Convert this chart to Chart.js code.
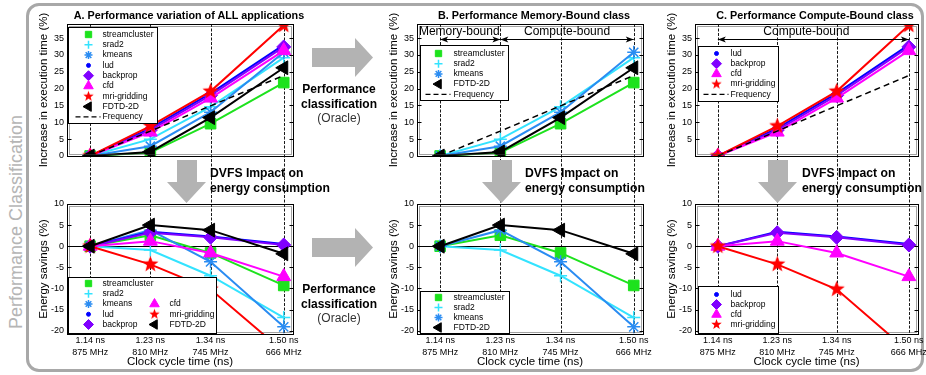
<!DOCTYPE html>
<html>
<head>
<meta charset="utf-8">
<script src="https://cdn.jsdelivr.net/npm/chart.js@4.4.1/dist/chart.umd.min.js"></script>
<style>
  html, body { margin: 0; padding: 0; background: #fff; }
  body { width: 926px; height: 375px; overflow: hidden; position: relative; font-family: "Liberation Sans", Arial, sans-serif; color: #000; }
  canvas { position: absolute; }
  #outline { position: absolute; left: 26px; top: 3px; width: 898px; height: 369px; box-sizing: border-box; border: 3px solid #a8a8a8; border-radius: 13px; }
  .c { position: absolute; white-space: nowrap; transform: translate(-50%, -50%); }
  .side { font-size: 18px; color: #b5b5b5; transform: translate(-50%, -50%) rotate(-90deg); }
  .ptitle { font-weight: bold; font-size: 10.8px; }
  .oracle { font-size: 12px; line-height: 14.5px; text-align: center; color: #333; }
  .oracle b { color: #000; }
  .dvfs { position: absolute; white-space: nowrap; font-weight: bold; font-size: 12.2px; line-height: 15px; }
  svg { position: absolute; }
</style>
</head>
<body>
<div id="outline"></div>
<div class="c side" style="left:16px;top:222px">Performance Classification</div>

<canvas id="timeA" width="277" height="200" style="left:30px;top:4px"></canvas>
<canvas id="energyA" width="277" height="181" style="left:30px;top:194px"></canvas>
<canvas id="timeB" width="277" height="200" style="left:380px;top:4px"></canvas>
<canvas id="energyB" width="277" height="181" style="left:380px;top:194px"></canvas>
<canvas id="timeC" width="274" height="200" style="left:658px;top:4px"></canvas>
<canvas id="energyC" width="274" height="181" style="left:658px;top:194px"></canvas>

<div class="c ptitle" style="left:189px;top:15px">A. Performance variation of ALL applications</div>
<div class="c ptitle" style="left:534px;top:15px">B. Performance Memory-Bound class</div>
<div class="c ptitle" style="left:815px;top:15px">C. Performance Compute-Bound class</div>

<svg style="left:312px;top:38px" width="62" height="40"><polygon points="0,10 43,10 43,0 61,19.5 43,39 43,29 0,29" fill="#b3b3b3"/></svg>
<svg style="left:312px;top:228px" width="62" height="40"><polygon points="0,10 43,10 43,0 61,19.5 43,39 43,29 0,29" fill="#b3b3b3"/></svg>
<div class="c oracle" style="left:339px;top:104px"><b>Performance</b><br><b>classification</b><br>(Oracle)</div>
<div class="c oracle" style="left:339px;top:304px"><b>Performance</b><br><b>classification</b><br>(Oracle)</div>

<svg style="left:167px;top:160px" width="40" height="44"><polygon points="10,0 30,0 30,22 39,22 19.5,43 0,22 10,22" fill="#b3b3b3"/></svg>
<svg style="left:482px;top:160px" width="40" height="44"><polygon points="10,0 30,0 30,22 39,22 19.5,43 0,22 10,22" fill="#b3b3b3"/></svg>
<svg style="left:758px;top:160px" width="40" height="44"><polygon points="10,0 30,0 30,22 39,22 19.5,43 0,22 10,22" fill="#b3b3b3"/></svg>
<div class="dvfs" style="left:210px;top:165.5px">DVFS Impact on<br>energy consumption</div>
<div class="dvfs" style="left:525px;top:165.5px">DVFS Impact on<br>energy consumption</div>
<div class="dvfs" style="left:802px;top:165.5px">DVFS Impact on<br>energy consumption</div>

<script>
// x axis: operating points
const freqMHz = [875, 810, 745, 666];
const cycleLabels = ['1.14 ns', '1.23 ns', '1.34 ns', '1.50 ns'];
const freqLabels = ['875 MHz', '810 MHz', '745 MHz', '666 MHz'];

// y tick labels
const timeTicksAll = [0, 5, 10, 15, 20, 25, 30, 35];
const timeTicksCompute = [5, 10, 15, 20, 25, 30, 35];
const energyTicks = [-20, -15, -10, -5, 0, 5, 10];

// increase in execution time (%)
const timeStreamcluster = [0, 1.0, 9.6, 21.8];
const timeSrad2 = [0, 5.0, 14.6, 29.2];
const timeKmeans = [0, 2.9, 13.0, 30.8];
const timeLud = [0, 8.2, 18.6, 33.0];
const timeBackprop = [0, 7.7, 18.0, 32.4];
const timeCfd = [0, 7.1, 17.2, 31.3];
const timeMri = [0, 8.9, 19.2, 38.8];
const timeFdtd = [0, 1.2, 11.4, 26.2];
const timeFrequency = [0, 7.4, 14.9, 23.9];

// energy savings (%)
const energyStreamcluster = [0, 2.6, -1.6, -9.3];
const energySrad2 = [0, -0.9, -7.0, -16.9];
const energyKmeans = [0, 3.8, -3.7, -19.1];
const energyLud = [0, 3.4, 2.3, 0.5];
const energyBackprop = [0, 3.2, 2.1, 0.3];
const energyCfd = [0, 1.2, -1.6, -7.2];
const energyMri = [0, -4.3, -10.2, -25.0];
const energyFdtd = [0, 5.0, 3.8, -1.8];

Chart.defaults.font.family = '"Liberation Sans", Arial, sans-serif';
Chart.defaults.color = '#000';

// filled five-point star, used for mri-gridding
function starImage(outer, color) {
  const c = document.createElement('canvas');
  const s = Math.ceil(outer * 2 + 2);
  c.width = s; c.height = s;
  const g = c.getContext('2d');
  g.beginPath();
  for (let i = 0; i < 10; i++) {
    const r = i % 2 ? outer * 0.42 : outer;
    const ang = -Math.PI / 2 + i * Math.PI / 5;
    g.lineTo(s / 2 + r * Math.cos(ang), s / 2 + r * Math.sin(ang));
  }
  g.closePath();
  g.fillStyle = color;
  g.fill();
  return c;
}

const look = {
  'streamcluster': { color: '#1de21d', style: 'rect', r: 7.5, lr: 4.5 },
  'srad2': { color: '#33e3ff', style: 'cross', r: 6.5, lr: 4, bw: 1.5 },
  'kmeans': { color: '#2a8cf2', style: 'star', r: 6.5, lr: 4, bw: 1.5 },
  'lud': { color: '#0000ff', style: 'circle', r: 2.5, lr: 2 },
  'backprop': { color: '#8000ff', style: 'rectRot', r: 7, lr: 5 },
  'cfd': { color: '#ff00ff', style: 'triangle', r: 8, lr: 5.5 },
  'mri-gridding': { color: '#ff0000', style: starImage(8.5, '#ff0000'), legendStyle: starImage(5.5, '#ff0000'), r: 8, lr: 5 },
  'FDTD-2D': { color: '#000000', style: 'triangle', rot: -90, r: 8, lr: 5.5 },
  'Frequency': { color: '#000000', style: 'circle', r: 0, lw: 1.5, dash: [6, 4] }
};

function series(label, values) {
  const s = look[label];
  return {
    label,
    data: values.map((v, i) => ({ x: freqMHz[i], y: v })),
    borderColor: s.color,
    backgroundColor: s.color,
    pointBackgroundColor: s.color,
    pointBorderColor: s.color,
    pointStyle: s.style,
    pointRadius: s.r,
    pointRotation: s.rot || 0,
    pointBorderWidth: s.bw || 1,
    borderWidth: s.lw || 2,
    borderDash: s.dash || [],
    tension: 0,
    legendStyle: s.legendStyle || s.style,
    legendRadius: s.lr
  };
}

const drawPoint = Chart.helpers && Chart.helpers.drawPoint;

// frame, dashed grid, inward ticks, span arrows and MATLAB style legend box
const decor = {
  id: 'decor',
  beforeDatasetsDraw(chart, args, o) {
    const { ctx, chartArea: a, scales: { x, y } } = chart;
    ctx.save();
    ctx.strokeStyle = '#000';
    ctx.lineWidth = 0.9;
    ctx.setLineDash([3, 1.5]);
    const yEnd = o.extendDown ? chart.height : a.bottom;
    x.ticks.forEach(t => {
      const px = Math.round(x.getPixelForValue(t.value)) + 0.5;
      ctx.beginPath(); ctx.moveTo(px, a.top); ctx.lineTo(px, yEnd); ctx.stroke();
    });
    ctx.setLineDash([]);
    if (o.zeroLine) {
      const py = Math.round(y.getPixelForValue(0)) + 0.5;
      ctx.lineWidth = 1;
      ctx.beginPath(); ctx.moveTo(a.left, py); ctx.lineTo(a.right, py); ctx.stroke();
    }
    ctx.restore();
  },
  afterDatasetsDraw(chart, args, o) {
    const { ctx, chartArea: a, scales: { x, y } } = chart;
    ctx.save();
    // frame
    ctx.strokeStyle = '#000';
    ctx.lineWidth = 1;
    const L = Math.round(a.left) + 0.5, T = Math.round(a.top) + 0.5;
    const R = Math.round(a.right) + 0.5, B = Math.round(a.bottom) + 0.5;
    ctx.strokeRect(L, T, R - L, B - T);
    ctx.setLineDash([1, 1]);
    ctx.strokeStyle = '#444';
    ctx.strokeRect(L + 2, T + 2, R - L - 4, B - T - 4);
    ctx.setLineDash([]);
    ctx.strokeStyle = '#000';
    y.ticks.forEach(t => {
      const py = Math.round(y.getPixelForValue(t.value)) + 0.5;
      ctx.beginPath();
      ctx.moveTo(L, py); ctx.lineTo(L + 4, py);
      ctx.moveTo(R, py); ctx.lineTo(R - 4, py);
      ctx.stroke();
    });

    // span arrows (Memory-bound / Compute-bound)
    (o.spans || []).forEach(s => {
      const x1 = x.getPixelForValue(s.from), x2 = x.getPixelForValue(s.to);
      const yy = a.top + s.dy + 0.5;
      ctx.fillStyle = '#000';
      ctx.lineWidth = 1;
      ctx.beginPath(); ctx.moveTo(x1, yy); ctx.lineTo(x2, yy); ctx.stroke();
      [[x1, 1], [x2, -1]].forEach(([px, d]) => {
        ctx.beginPath();
        ctx.moveTo(px, yy); ctx.lineTo(px + d * 8, yy - 3); ctx.lineTo(px + d * 6, yy); ctx.lineTo(px + d * 8, yy + 3);
        ctx.closePath(); ctx.fill();
      });
      ctx.font = '12px "Liberation Sans", Arial, sans-serif';
      ctx.textAlign = 'center';
      ctx.textBaseline = 'middle';
      ctx.fillText(s.text, (x1 + x2) / 2 + s.dx, a.top + s.ty);
    });

    // legend box
    const lg = o.legend;
    if (lg) {
      const bx = Math.round(a.left + lg.x) + 0.5, by = Math.round(a.top + lg.y) + 0.5;
      ctx.fillStyle = '#fff';
      ctx.fillRect(bx, by, lg.w, lg.h);
      ctx.strokeStyle = '#000';
      ctx.lineWidth = 1;
      ctx.strokeRect(bx, by, lg.w, lg.h);
      ctx.font = '8.5px "Liberation Sans", Arial, sans-serif';
      ctx.textAlign = 'left';
      ctx.textBaseline = 'middle';
      lg.cols.forEach(col => col.items.forEach((label, r) => {
        if (!label) return;
        const ds = chart.data.datasets.find(d => d.label === label);
        const cy = by + lg.y0 + r * lg.rowH;
        const mx = bx + col.mx;
        if (!ds.legendRadius && label === 'Frequency') {
          ctx.strokeStyle = ds.borderColor;
          ctx.lineWidth = 1.3;
          ctx.setLineDash([5, 3]);
          ctx.beginPath(); ctx.moveTo(mx - 13, cy); ctx.lineTo(mx + 12, cy); ctx.stroke();
          ctx.setLineDash([]);
        } else if (drawPoint) {
          ctx.fillStyle = ds.pointBackgroundColor;
          ctx.strokeStyle = ds.pointBorderColor;
          ctx.lineWidth = ds.pointBorderWidth;
          drawPoint(ctx, { pointStyle: ds.legendStyle, radius: ds.legendRadius, rotation: ds.pointRotation, borderWidth: ds.pointBorderWidth }, mx, cy);
        }
        ctx.fillStyle = '#000';
        ctx.fillText(label, bx + col.tx, cy);
      }));
    }
    ctx.restore();
  }
};

function makeChart(id, datasets, top, yTicks, extra) {
  const n = datasets.length;
  datasets.forEach((d, i) => { d.order = n - i; });
  return new Chart(document.getElementById(id), {
    type: 'line',
    data: { datasets },
    options: {
      responsive: false,
      animation: false,
      events: [],
      devicePixelRatio: 1,
      layout: { padding: { top: top ? 20 : 10, right: 14, left: 0, bottom: 0 } },
      scales: {
        x: {
          type: 'linear', reverse: true, min: 656, max: 900,
          grid: { display: false, drawTicks: false },
          border: { display: false },
          afterBuildTicks: ax => { ax.ticks = freqMHz.map(v => ({ value: v })); },
          afterFit: ax => { ax.height = top ? 48 : 41; },
          ticks: {
            display: !top, autoSkip: false, maxRotation: 0, padding: 1, color: '#000',
            font: { size: 9, lineHeight: 12 / 9 },
            callback: (v, i) => [cycleLabels[i], freqLabels[i]]
          },
          title: {
            display: !top, text: 'Clock cycle time (ns)', color: '#000',
            font: { size: 11.5, lineHeight: 1.2 }, padding: { top: 0, bottom: 6 }
          }
        },
        y: {
          min: top ? 0 : -20.8, max: top ? 39.2 : 10,
          grid: { display: false, drawTicks: false },
          border: { display: false },
          afterBuildTicks: ax => { ax.ticks = yTicks.map(v => ({ value: v })); },
          afterFit: ax => { ax.width = 37; },
          ticks: { autoSkip: false, padding: 3, color: '#000', font: { size: 9 }, callback: v => String(v) },
          title: {
            display: true, text: top ? 'Increase in execution time (%)' : 'Energy savings (%)', color: '#000',
            font: { size: 11.5, lineHeight: 1.2 }, padding: { top: 7, bottom: 0 }
          }
        }
      },
      plugins: { legend: { display: false }, tooltip: { enabled: false }, decor: extra }
    },
    plugins: [decor]
  });
}

makeChart('timeA', [
  series('streamcluster', timeStreamcluster), series('srad2', timeSrad2), series('kmeans', timeKmeans),
  series('lud', timeLud), series('backprop', timeBackprop), series('cfd', timeCfd),
  series('mri-gridding', timeMri), series('FDTD-2D', timeFdtd), series('Frequency', timeFrequency)
], true, timeTicksAll, {
  extendDown: true,
  legend: { x: 1, y: 3, w: 89, h: 96, y0: 7, rowH: 10.3,
    cols: [{ mx: 20, tx: 34, items: ['streamcluster', 'srad2', 'kmeans', 'lud', 'backprop', 'cfd', 'mri-gridding', 'FDTD-2D', 'Frequency'] }] }
});

makeChart('energyA', [
  series('streamcluster', energyStreamcluster), series('srad2', energySrad2), series('kmeans', energyKmeans),
  series('lud', energyLud), series('backprop', energyBackprop), series('cfd', energyCfd),
  series('mri-gridding', energyMri), series('FDTD-2D', energyFdtd)
], false, energyTicks, {
  zeroLine: true,
  legend: { x: 1, y: 73, w: 148, h: 56, y0: 6, rowH: 10.25,
    cols: [
      { mx: 20, tx: 34, items: ['streamcluster', 'srad2', 'kmeans', 'lud', 'backprop'] },
      { mx: 86, tx: 101, items: [null, null, 'cfd', 'mri-gridding', 'FDTD-2D'] }
    ] }
});

makeChart('timeB', [
  series('streamcluster', timeStreamcluster), series('srad2', timeSrad2), series('kmeans', timeKmeans),
  series('FDTD-2D', timeFdtd), series('Frequency', timeFrequency)
], true, timeTicksAll, {
  extendDown: true,
  spans: [
    { from: 875, to: 810, dy: 15, ty: 8, dx: -11, text: 'Memory-bound' },
    { from: 810, to: 666, dy: 15, ty: 8, dx: 0, text: 'Compute-bound' }
  ],
  legend: { x: 3, y: 21, w: 88, h: 55, y0: 8, rowH: 10.2,
    cols: [{ mx: 18, tx: 33, items: ['streamcluster', 'srad2', 'kmeans', 'FDTD-2D', 'Frequency'] }] }
});

makeChart('energyB', [
  series('streamcluster', energyStreamcluster), series('srad2', energySrad2), series('kmeans', energyKmeans),
  series('FDTD-2D', energyFdtd)
], false, energyTicks, {
  zeroLine: true,
  legend: { x: 3, y: 87, w: 89, h: 42, y0: 6, rowH: 10,
    cols: [{ mx: 18, tx: 33, items: ['streamcluster', 'srad2', 'kmeans', 'FDTD-2D'] }] }
});

makeChart('timeC', [
  series('lud', timeLud), series('backprop', timeBackprop), series('cfd', timeCfd),
  series('mri-gridding', timeMri), series('Frequency', timeFrequency)
], true, timeTicksCompute, {
  extendDown: true,
  spans: [{ from: 875, to: 666, dy: 15, ty: 8, dx: -7, text: 'Compute-bound' }],
  legend: { x: 3, y: 22, w: 80, h: 55, y0: 7, rowH: 10.2,
    cols: [{ mx: 18, tx: 32, items: ['lud', 'backprop', 'cfd', 'mri-gridding', 'Frequency'] }] }
});

makeChart('energyC', [
  series('lud', energyLud), series('backprop', energyBackprop), series('cfd', energyCfd),
  series('mri-gridding', energyMri)
], false, energyTicks, {
  zeroLine: true,
  legend: { x: 3, y: 82, w: 80, h: 47, y0: 8, rowH: 10,
    cols: [{ mx: 18, tx: 32, items: ['lud', 'backprop', 'cfd', 'mri-gridding'] }] }
});
</script>
</body>
</html>
